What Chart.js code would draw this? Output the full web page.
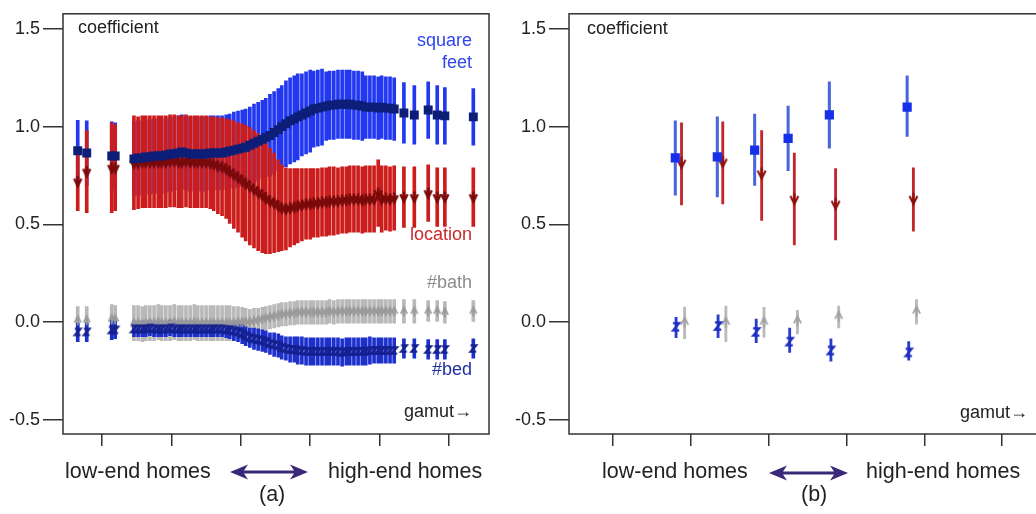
<!DOCTYPE html>
<html><head><meta charset="utf-8">
<script src="https://cdn.jsdelivr.net/npm/chart.js@4.4.1/dist/chart.umd.min.js"></script>
<style>
html,body{margin:0;padding:0;background:#fff;width:1036px;height:514px;overflow:hidden;position:relative;font-family:"Liberation Sans",Arial,sans-serif;}
canvas{position:absolute;top:0;}
#cA{left:0}
#cB{left:506px}
.t{position:absolute;white-space:nowrap;line-height:1;font-size:18px;color:#222;}
.b{position:absolute;white-space:nowrap;line-height:1;font-size:21.5px;color:#222;}
svg{position:absolute;left:0;top:0;}
</style></head><body>
<canvas id="cA" width="500" height="514"></canvas>
<canvas id="cB" width="550" height="514"></canvas>

<div class="t" style="left:78px;top:18px">coefficient</div>
<div class="t" style="right:564px;top:31px;color:#2f45ee">square</div>
<div class="t" style="right:564px;top:53px;color:#2f45ee">feet</div>
<div class="t" style="right:564px;top:225px;color:#cc2a2a">location</div>
<div class="t" style="right:564px;top:273px;color:#8c8c8c">#bath</div>
<div class="t" style="right:564px;top:360px;color:#1f2fa0">#bed</div>
<div class="t" style="right:564px;top:402px">gamut→</div>
<div class="t" style="left:587px;top:19px">coefficient</div>
<div class="t" style="right:8px;top:403px">gamut→</div>

<div class="b" style="left:65px;top:461px">low-end homes</div>
<div class="b" style="left:328px;top:461px">high-end homes</div>
<div class="b" style="left:259px;top:484px">(a)</div>
<div class="b" style="left:602px;top:461px">low-end homes</div>
<div class="b" style="left:866px;top:461px">high-end homes</div>
<div class="b" style="left:801px;top:484px">(b)</div>
<svg width="1036" height="514">
<path fill="#3a2878" d="M230,472 L248,464.5 L244,470.5 L294,470.5 L290,464.5 L308,472 L290,479.5 L294,473.5 L244,473.5 L248,479.5 Z"/>
<path fill="#3a2878" d="M769,473 L787,465.5 L783,471.5 L834,471.5 L830,465.5 L848,473 L830,480.5 L834,474.5 L783,474.5 L787,480.5 Z"/>
</svg>

<script>
// ---------- shared axis data ----------
const yTickValues = [-0.5, 0, 0.5, 1.0, 1.5];
const yTickLabels = ["-0.5", "0.0", "0.5", "1.0", "1.5"];
const xTickValues = [1, 2, 3, 4, 5, 6];

// ---------- panel (a): sliding-window coefficients ----------
const aGamut = [0.65,0.78,1.14,1.19,
 1.46,1.52,1.58,1.63,1.69,1.75,1.81,1.86,1.92,1.98,2.04,2.10,2.15,2.21,2.27,2.33,2.38,2.44,2.50,2.56,2.61,2.67,2.73,2.79,2.84,2.90,
 2.96,3.02,3.07,3.13,3.19,3.25,3.31,3.36,3.42,3.48,3.54,3.59,3.65,3.71,3.77,3.82,3.88,3.94,4.00,4.05,4.11,4.17,4.23,4.28,4.34,4.40,
 4.46,4.52,4.57,4.63,4.69,4.75,4.80,4.86,4.92,4.98,5.03,5.09,5.15,5.21,
 5.35,5.50,5.70,5.83,5.94,6.35];
const aSqft = [0.877,0.865,0.85,0.85,
 0.835,0.84,0.84,0.845,0.845,0.85,0.85,0.85,0.855,0.86,0.86,0.865,0.87,0.865,0.86,0.86,0.86,0.86,0.86,0.865,0.865,0.865,0.865,0.87,0.875,0.88,
 0.885,0.89,0.895,0.905,0.915,0.925,0.935,0.945,0.955,0.97,0.985,1.0,1.015,1.03,1.04,1.05,1.06,1.07,1.08,1.09,1.095,1.10,1.105,1.11,1.11,1.115,
 1.115,1.115,1.115,1.11,1.11,1.105,1.10,1.10,1.10,1.095,1.10,1.095,1.095,1.09,
 1.07,1.06,1.085,1.06,1.055,1.05];
const aSqftErr = [0.155,0.165,0.175,0.17,
 0.19,0.19,0.19,0.19,0.19,0.19,0.19,0.19,0.19,0.19,0.19,0.19,0.19,0.19,0.19,0.19,0.19,0.19,0.19,0.19,0.19,0.19,0.19,0.19,0.19,0.195,
 0.195,0.195,0.195,0.195,0.20,0.20,0.20,0.20,0.21,0.21,0.21,0.21,0.22,0.22,0.22,0.22,0.21,0.21,0.21,0.195,0.195,0.195,0.175,0.175,0.175,0.175,
 0.175,0.175,0.175,0.175,0.175,0.175,0.16,0.16,0.16,0.16,0.16,0.16,0.16,0.16,
 0.155,0.15,0.145,0.15,0.145,0.145];
const aLoc = [0.72,0.77,0.79,0.79,
 0.815,0.815,0.82,0.82,0.82,0.82,0.82,0.82,0.82,0.825,0.825,0.82,0.82,0.825,0.82,0.82,0.82,0.82,0.82,0.815,0.81,0.80,0.795,0.785,0.77,0.755,
 0.74,0.725,0.71,0.695,0.68,0.665,0.65,0.635,0.62,0.61,0.595,0.585,0.58,0.585,0.59,0.595,0.60,0.605,0.605,0.61,0.61,0.615,0.615,0.62,0.62,0.62,
 0.625,0.625,0.63,0.63,0.63,0.625,0.63,0.63,0.63,0.66,0.63,0.635,0.63,0.635,
 0.64,0.64,0.66,0.64,0.64,0.64];
const aLocErr = [0.15,0.21,0.23,0.22,
 0.24,0.235,0.235,0.235,0.235,0.235,0.235,0.235,0.235,0.235,0.235,0.235,0.235,0.235,0.235,0.235,0.235,0.235,0.235,0.235,0.24,0.245,0.25,0.255,0.265,0.275,
 0.28,0.29,0.295,0.30,0.30,0.30,0.295,0.285,0.27,0.255,0.235,0.22,0.21,0.20,0.195,0.19,0.185,0.18,0.18,0.175,0.175,0.175,0.175,0.175,0.175,0.17,
 0.17,0.17,0.17,0.17,0.17,0.17,0.17,0.17,0.17,0.17,0.17,0.165,0.165,0.165,
 0.155,0.155,0.145,0.15,0.15,0.15];
const aBath = [0.01,0.01,0.015,0.015,
 -0.005,-0.005,-0.01,-0.005,-0.005,-0.005,0.0,-0.005,-0.005,-0.005,0.0,-0.005,-0.005,-0.005,-0.005,0.0,-0.005,-0.005,-0.005,-0.005,-0.005,-0.005,-0.005,-0.005,-0.005,-0.005,
 0.0,0.0,0.0,0.0,0.005,0.01,0.015,0.02,0.025,0.03,0.035,0.04,0.04,0.045,0.045,0.05,0.05,0.05,0.05,0.05,0.05,0.05,0.05,0.055,0.05,0.055,
 0.055,0.055,0.055,0.055,0.055,0.055,0.055,0.055,0.055,0.055,0.055,0.055,0.055,0.055,
 0.055,0.055,0.055,0.055,0.05,0.055];
const aBathErr = [0.07,0.07,0.075,0.07,
 0.09,0.09,0.09,0.09,0.09,0.09,0.09,0.09,0.09,0.09,0.09,0.09,0.09,0.09,0.09,0.09,0.09,0.09,0.09,0.09,0.09,0.09,0.09,0.09,0.09,0.085,
 0.08,0.075,0.07,0.065,0.065,0.06,0.06,0.06,0.06,0.06,0.06,0.06,0.06,0.06,0.06,0.06,0.06,0.06,0.06,0.06,0.06,0.06,0.06,0.06,0.06,0.06,
 0.06,0.06,0.06,0.06,0.06,0.06,0.06,0.06,0.06,0.06,0.06,0.06,0.06,0.06,
 0.06,0.06,0.055,0.055,0.055,0.055];
const aBed = [-0.05,-0.05,-0.04,-0.04,
 -0.035,-0.035,-0.035,-0.035,-0.03,-0.035,-0.035,-0.035,-0.035,-0.03,-0.035,-0.035,-0.035,-0.035,-0.035,-0.035,-0.035,-0.035,-0.035,-0.035,-0.035,-0.035,-0.035,-0.04,-0.04,-0.045,
 -0.05,-0.06,-0.07,-0.08,-0.085,-0.09,-0.095,-0.10,-0.11,-0.115,-0.12,-0.13,-0.135,-0.14,-0.14,-0.145,-0.145,-0.15,-0.15,-0.15,-0.15,-0.15,-0.15,-0.15,-0.15,-0.15,
 -0.155,-0.15,-0.15,-0.15,-0.15,-0.15,-0.15,-0.145,-0.145,-0.145,-0.145,-0.145,-0.145,-0.145,
 -0.135,-0.135,-0.14,-0.14,-0.14,-0.135];
const aBedErr = [0.05,0.05,0.05,0.045,
 0.04,0.04,0.04,0.04,0.04,0.04,0.04,0.04,0.04,0.04,0.04,0.04,0.04,0.04,0.04,0.04,0.04,0.04,0.04,0.04,0.04,0.04,0.04,0.04,0.045,0.05,
 0.05,0.05,0.05,0.05,0.055,0.055,0.055,0.055,0.055,0.06,0.06,0.06,0.06,0.065,0.065,0.07,0.07,0.07,0.07,0.07,0.07,0.07,0.07,0.07,0.07,0.07,
 0.07,0.07,0.07,0.07,0.07,0.07,0.07,0.07,0.065,0.065,0.065,0.065,0.065,0.065,
 0.05,0.05,0.05,0.05,0.05,0.05];

// ---------- panel (b): six fixed segments ----------
const bSqftGamut = [1.80, 2.34, 2.82, 3.25, 3.78, 4.78];
const bSqft      = [0.84, 0.845, 0.88, 0.94, 1.06, 1.10];
const bSqftLo    = [0.65, 0.64, 0.70, 0.775, 0.89, 0.95];
const bSqftHi    = [1.03, 1.05, 1.065, 1.105, 1.23, 1.26];
const bBedGamut  = [1.81, 2.35, 2.84, 3.27, 3.80, 4.80];
const bBed       = [-0.024, -0.02, -0.05, -0.10, -0.145, -0.155];
const bBedLo     = [-0.08, -0.08, -0.105, -0.155, -0.20, -0.195];
const bBedHi     = [0.025, 0.037, 0.015, -0.03, -0.085, -0.10];
const bLocGamut  = [1.88, 2.41, 2.91, 3.33, 3.86, 4.86];
const bLoc       = [0.815, 0.82, 0.76, 0.63, 0.605, 0.63];
const bLocLo     = [0.60, 0.605, 0.52, 0.395, 0.42, 0.465];
const bLocHi     = [1.02, 1.025, 0.98, 0.865, 0.785, 0.79];
const bBathGamut = [1.92, 2.45, 2.94, 3.37, 3.90, 4.90];
const bBath      = [0.0, 0.0, 0.0, 0.007, 0.03, 0.057];
const bBathLo    = [-0.085, -0.10, -0.077, -0.06, -0.03, -0.01];
const bBathHi    = [0.077, 0.082, 0.075, 0.06, 0.082, 0.115];

// ---------- helpers ----------
const FONT = '"Liberation Sans", Arial, sans-serif';
function glyph(kind, color, size, lw) {
  const c = document.createElement('canvas');
  const s = Math.ceil(size + lw * 2 + 4);
  c.width = s; c.height = s;
  const g = c.getContext('2d');
  g.translate(s / 2, s / 2);
  g.strokeStyle = color; g.lineWidth = lw; g.lineJoin = 'miter'; g.lineCap = 'butt';
  const h = size / 2;
  g.beginPath();
  if (kind === 'down') {
    g.moveTo(-h * 0.8, -h * 0.6); g.lineTo(0, h); g.lineTo(h * 0.8, -h * 0.6);
    g.moveTo(0, -h - 1); g.lineTo(0, h);
  } else if (kind === 'up') {
    g.moveTo(-h * 0.8, h * 0.6); g.lineTo(0, -h); g.lineTo(h * 0.8, h * 0.6);
    g.moveTo(0, h + 1); g.lineTo(0, -h);
  } else {
    g.moveTo(-h * 0.7, -h * 0.8); g.lineTo(h * 0.7, -h * 0.8);
    g.lineTo(-h * 0.7, h * 0.8); g.lineTo(h * 0.7, h * 0.8);
  }
  g.stroke();
  return c;
}
function barSet(xs, lo, hi, color, thick, order) {
  return { type: 'bar', data: xs.map((x, i) => ({ x: x, y: [lo[i], hi[i]] })),
    backgroundColor: color, borderWidth: 0, barThickness: thick, grouped: false, order: order };
}
function ptSet(xs, ys, style, color, radius, order) {
  return { type: 'scatter', data: xs.map((x, i) => ({ x: x, y: ys[i] })),
    pointStyle: style, pointRadius: radius, pointBackgroundColor: color, pointBorderColor: color,
    pointBorderWidth: 0, showLine: false, order: order };
}
const boxPlugin = { id: 'box', afterDraw(chart) {
  const { ctx, chartArea: a } = chart;
  ctx.save(); ctx.strokeStyle = '#333'; ctx.lineWidth = 1.5;
  ctx.strokeRect(a.left, a.top, a.right - a.left, a.bottom - a.top); ctx.restore();
} };
function opts(xMin, xMax, padRight) {
  return {
    responsive: false, animation: false, devicePixelRatio: 1,
    layout: { padding: { top: 4, right: padRight, left: 0, bottom: 0 } },
    plugins: { legend: { display: false }, tooltip: { enabled: false } },
    scales: {
      x: { type: 'linear', min: xMin, max: xMax, offset: false,
        grid: { display: true, drawOnChartArea: false, drawTicks: true, tickLength: 12, color: '#333', lineWidth: 1.5, offset: false },
        border: { display: false }, ticks: { display: false },
        afterBuildTicks: s => { s.ticks = xTickValues.map(v => ({ value: v })); },
        afterFit: s => { s.height = 80; } },
      y: { type: 'linear', min: -0.5725, max: 1.5775,
        grid: { drawOnChartArea: false, drawTicks: true, tickLength: 20, color: '#333', lineWidth: 1.5 },
        border: { display: false },
        ticks: { font: { family: FONT, size: 18 }, color: '#222', padding: 3,
          callback: v => yTickLabels[yTickValues.indexOf(v)] },
        afterBuildTicks: s => { s.ticks = yTickValues.map(v => ({ value: v })); },
        afterFit: s => { s.width = 63; } }
    }
  };
}

// ---------- panel (a) ----------
const lo = (v, e) => v.map((x, i) => x - e[i]);
const hi = (v, e) => v.map((x, i) => x + e[i]);
new Chart(document.getElementById('cA'), {
  type: 'bar',
  data: { datasets: [
    ptSet(aGamut, aSqft, 'rect', '#0c1e78', 6.3, 0),
    ptSet(aGamut, aBed, glyph('z', '#15218e', 8, 2.2), '#15218e', 4, 1),
    ptSet(aGamut, aLoc, glyph('down', '#7a0a0a', 9, 2.4), '#7a0a0a', 4, 2),
    ptSet(aGamut, aBath, glyph('up', '#9a9a9a', 8, 1.8), '#9a9a9a', 4, 3),
    barSet(aGamut, lo(aBed, aBedErr), hi(aBed, aBedErr), '#1e30cc', 3, 4),
    barSet(aGamut, lo(aBath, aBathErr), hi(aBath, aBathErr), '#b9b9b9', 3, 5),
    barSet(aGamut, lo(aLoc, aLocErr), hi(aLoc, aLocErr), '#cc1c1c', 3, 6),
    barSet(aGamut, lo(aSqft, aSqftErr), hi(aSqft, aSqftErr), '#2238f0', 3, 7)
  ] },
  options: opts(0.438, 6.576, 11),
  plugins: [boxPlugin]
});

// ---------- panel (b) ----------
new Chart(document.getElementById('cB'), {
  type: 'bar',
  data: { datasets: [
    ptSet(bSqftGamut, bSqft, 'rect', '#1530e8', 6.5, 0),
    ptSet(bBedGamut, bBed, glyph('z', '#1e2cc0', 9, 2.1), '#1e2cc0', 4, 1),
    ptSet(bLocGamut, bLoc, glyph('down', '#8c1010', 10, 2.1), '#8c1010', 4, 2),
    ptSet(bBathGamut, bBath, glyph('up', '#a2a2a2', 9, 1.8), '#a2a2a2', 4, 3),
    barSet(bBedGamut, bBedLo, bBedHi, '#2a3ccc', 2.2, 4),
    barSet(bBathGamut, bBathLo, bBathHi, '#bababa', 2.2, 5),
    barSet(bLocGamut, bLocLo, bLocHi, '#c0282c', 2.2, 6),
    barSet(bSqftGamut, bSqftLo, bSqftHi, '#4a66dc', 2.4, 7)
  ] },
  options: opts(0.434, 6.59, 8),
  plugins: [boxPlugin]
});
</script>
</body></html>
